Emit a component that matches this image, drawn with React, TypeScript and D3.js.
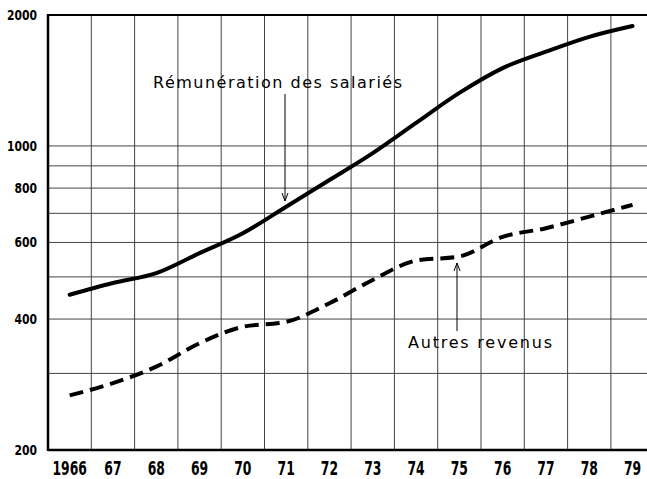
import { useEffect, useRef } from 'react'
import * as d3 from 'd3'

const years = [1966, 1967, 1968, 1969, 1970, 1971, 1972, 1973, 1974, 1975, 1976, 1977, 1978, 1979]
const yearLabels = ['1966', '67', '68', '69', '70', '71', '72', '73', '74', '75', '76', '77', '78', '79']
const remuneration = [455, 484, 510, 567, 630, 725, 835, 963, 1130, 1324, 1510, 1647, 1782, 1887]
const autresRevenus = [267, 285, 311, 352, 384, 394, 435, 492, 545, 557, 618, 647, 688, 732]
const yTickValues = [200, 400, 600, 800, 1000, 2000]
const yGridValues = [300, 400, 500, 600, 700, 800, 900, 1000]

function App() {
    const ref = useRef<SVGSVGElement>(null)

    useEffect(() => {
        const width = 647
        const height = 479
        const margin = { top: 15, left: 48, bottom: 29 }
        const bandStep = 43.3

        const svg = d3.select(ref.current)
        svg.selectAll('*').remove()

        const xScale = d3
            .scaleBand<number>()
            .domain(years)
            .range([margin.left, margin.left + bandStep * years.length])

        const yScale = d3
            .scaleLog()
            .domain([200, 2000])
            .range([height - margin.bottom, margin.top])

        const center = (yr: number) => (xScale(yr) ?? 0) + xScale.bandwidth() / 2
        const bottom = yScale(200)
        const top = yScale(2000)
        const tickFont = '"DejaVu Sans Condensed", "DejaVu Sans", sans-serif'

        // grid
        svg
            .append('g')
            .selectAll('line')
            .data(yGridValues)
            .enter()
            .append('line')
            .attr('x1', margin.left)
            .attr('x2', width)
            .attr('y1', d => yScale(d))
            .attr('y2', d => yScale(d))
            .style('stroke', '#444')
            .style('stroke-width', 1)

        svg
            .append('g')
            .selectAll('line')
            .data(years.slice(1))
            .enter()
            .append('line')
            .attr('x1', d => xScale(d) ?? 0)
            .attr('x2', d => xScale(d) ?? 0)
            .attr('y1', top)
            .attr('y2', bottom)
            .style('stroke', '#444')
            .style('stroke-width', 1)

        // frame
        svg.append('line')
            .attr('x1', margin.left).attr('x2', width)
            .attr('y1', top).attr('y2', top)
            .style('stroke', '#000').style('stroke-width', 2)
        svg.append('line')
            .attr('x1', margin.left).attr('x2', margin.left)
            .attr('y1', top - 1).attr('y2', bottom + 1)
            .style('stroke', '#000').style('stroke-width', 2.5)
        svg.append('line')
            .attr('x1', margin.left).attr('x2', width)
            .attr('y1', bottom).attr('y2', bottom)
            .style('stroke', '#000').style('stroke-width', 2.5)

        // y labels
        svg
            .append('g')
            .selectAll('text')
            .data(yTickValues)
            .enter()
            .append('text')
            .attr('x', 37)
            .attr('y', d => yScale(d))
            .attr('dy', '0.36em')
            .attr('textLength', d => String(d).length * 7.5)
            .attr('lengthAdjust', 'spacingAndGlyphs')
            .style('text-anchor', 'end')
            .style('font-family', tickFont)
            .style('font-weight', 'bold')
            .style('font-size', '14px')
            .text(d => String(d))

        // x labels
        svg
            .append('g')
            .selectAll('text')
            .data(years)
            .enter()
            .append('text')
            .attr('x', d => center(d))
            .attr('y', 475)
            .attr('textLength', (d, i) => yearLabels[i].length * 8.6)
            .attr('lengthAdjust', 'spacingAndGlyphs')
            .style('text-anchor', 'middle')
            .style('font-family', tickFont)
            .style('font-weight', 'bold')
            .style('font-size', '19px')
            .text((d, i) => yearLabels[i])

        const path = d3
            .line<number>()
            .x((d, i) => center(years[i]))
            .y(d => yScale(d))
            .curve(d3.curveMonotoneX)

        svg.append('path')
            .datum(remuneration)
            .attr('d', path)
            .style('fill', 'none')
            .style('stroke', '#000')
            .style('stroke-width', 4)
            .style('stroke-linecap', 'round')

        svg.append('path')
            .datum(autresRevenus)
            .attr('d', path)
            .style('fill', 'none')
            .style('stroke', '#000')
            .style('stroke-width', 4)
            .style('stroke-dasharray', '14,7')

        // annotations
        const labelFont = '"DejaVu Sans", sans-serif'
        svg.append('text')
            .attr('x', 153)
            .attr('y', 88)
            .attr('textLength', 249)
            .attr('lengthAdjust', 'spacing')
            .style('font-family', labelFont)
            .style('font-size', '16px')
            .text('Rémunération des salariés')

        svg.append('text')
            .attr('x', 408)
            .attr('y', 348)
            .attr('textLength', 144)
            .attr('lengthAdjust', 'spacing')
            .style('font-family', labelFont)
            .style('font-size', '16px')
            .text('Autres revenus')

        const arrow = (x: number, y1: number, y2: number) => {
            const dir = y2 > y1 ? 1 : -1
            svg.append('line')
                .attr('x1', x).attr('x2', x)
                .attr('y1', y1).attr('y2', y2)
                .style('stroke', '#000').style('stroke-width', 1)
            svg.append('path')
                .attr('d', `M${x - 3},${y2 - dir * 8} L${x},${y2} L${x + 3},${y2 - dir * 8}`)
                .style('fill', 'none')
                .style('stroke', '#000')
                .style('stroke-width', 1)
        }
        arrow(285, 94, 201)
        arrow(457, 331, 263)
    }, [])

    return (
        <svg
            ref={ref}
            width={647}
            height={479}
            style={{ position: 'absolute', left: 0, top: 0, background: '#fff' }}
        />
    )
}

export default App
